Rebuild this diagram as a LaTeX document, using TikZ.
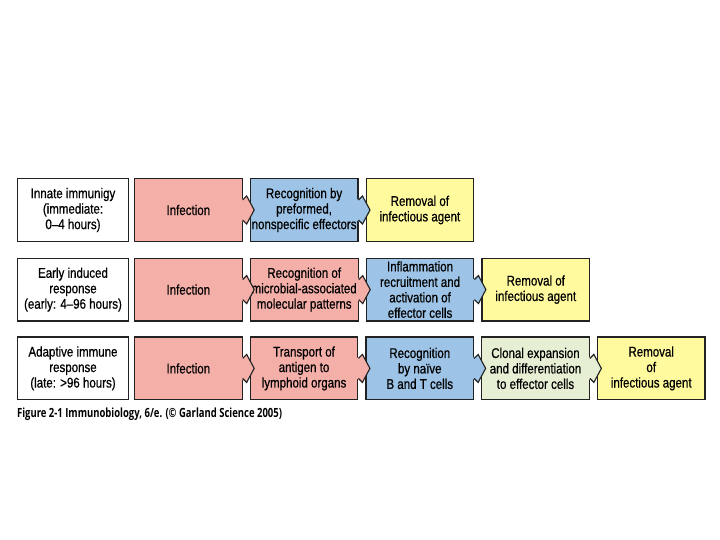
\documentclass[tikz,border=0pt]{standalone}
\usepackage{fontspec}
\setmainfont[FakeStretch=0.82,FakeBold=0.6]{Liberation Sans}
\newfontfamily\capfont[FakeStretch=0.75]{Open Sans}
\usetikzlibrary{positioning,calc}
\definecolor{colpink}{HTML}{F5AFA9}
\definecolor{colblue}{HTML}{9DC3E6}
\definecolor{colyellow}{HTML}{FFFA9E}
\definecolor{colgreen}{HTML}{E6EFD3}
\definecolor{coledge}{HTML}{222222}

% arrow tip from box #1 into box #2, filled with colour #3
\newcommand{\joint}[3]{%
  \fill[#3] ([shift={(-0.05,0.25)}]#1.east) -- ([shift={(0.1,0.35)}]#1.east)
    -- ($(#1.east)!0.5!(#2.west)+(0.2,0)$) -- ([shift={(0.1,-0.35)}]#1.east)
    -- ([shift={(-0.05,-0.25)}]#1.east) -- cycle;
  \draw[tipline] ([yshift=0.25cm]#1.east) -- ([shift={(0.1,0.35)}]#1.east)
    -- ($(#1.east)!0.5!(#2.west)+(0.2,0)$) -- ([shift={(0.1,-0.35)}]#1.east)
    -- ([yshift=-0.25cm]#1.east);
}

\begin{document}
\begin{tikzpicture}[
    node distance=0.175cm,
    box/.style={
        rectangle,
        draw=coledge,
        line width=0.8pt,
        minimum width=2.69cm,
        minimum height=1.57cm,
        align=center,
        inner sep=1pt,
        font=\fontsize{10}{11}\selectfont
    },
    labelbox/.style={box, fill=white, minimum width=2.77cm},
    tipline/.style={coledge, line width=0.8pt, line join=miter}
]
\useasboundingbox (0,0) rectangle (18,-13.5);

% Row 1: innate
\node[labelbox] (lab1) at (1.825,-5.25) {Innate immunigy\\(immediate:\\0--4 hours)};
\node[box, fill=colpink, right=0.125cm of lab1] (inf1) {Infection};
\node[box, fill=colblue, right=of inf1] (rec1) {Recognition by\\preformed,\\nonspecific effectors};
\node[box, fill=colyellow, right=of rec1] (rem1) {Removal of\\infectious agent};

% Row 2: early induced
\node[labelbox] (lab2) at (1.825,-7.24) {Early induced\\response\\(early: 4--96 hours)};
\node[box, fill=colpink, right=0.125cm of lab2] (inf2) {Infection};
\node[box, fill=colpink, right=of inf2] (rec2) {Recognition of\\microbial-associated\\molecular patterns};
\node[box, fill=colblue, right=of rec2] (inflam2) {Inflammation\\recruitment and\\activation of\\effector cells};
\node[box, fill=colyellow, right=of inflam2] (rem2) {Removal of\\infectious agent};

% Row 3: adaptive
\node[labelbox] (lab3) at (1.825,-9.21) {Adaptive immune\\response\\(late: >96 hours)};
\node[box, fill=colpink, right=0.125cm of lab3] (inf3) {Infection};
\node[box, fill=colpink, right=of inf3] (trans3) {Transport of\\antigen to\\lymphoid organs};
\node[box, fill=colblue, right=of trans3] (rec3) {Recognition\\by naïve\\B and T cells};
\node[box, fill=colgreen, right=of rec3] (clon3) {Clonal expansion\\and differentiation\\to effector cells};
\node[box, fill=colyellow, right=of clon3] (rem3) {Removal\\of\\infectious agent};

% Arrow tips
\joint{inf1}{rec1}{colpink}
\joint{rec1}{rem1}{colblue}
\joint{inf2}{rec2}{colpink}
\joint{rec2}{inflam2}{colpink}
\joint{inflam2}{rem2}{colblue}
\joint{inf3}{trans3}{colpink}
\joint{trans3}{rec3}{colpink}
\joint{rec3}{clon3}{colblue}
\joint{clon3}{rem3}{colgreen}

% Caption
\node[anchor=north west, inner sep=0pt, font=\capfont\bfseries\fontsize{9}{10}\selectfont] (caption)
  at (0.42,-10.2) {Figure 2-1 Immunobiology, 6/e. (© Garland Science 2005)};
\end{tikzpicture}
\end{document}
